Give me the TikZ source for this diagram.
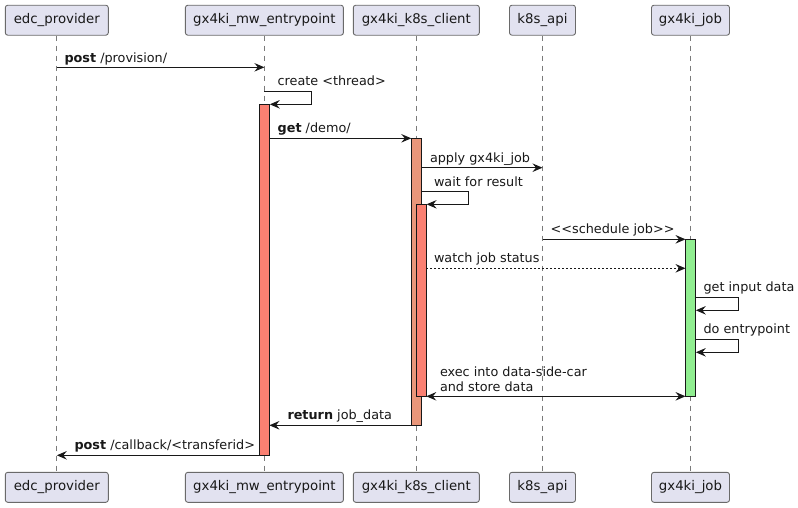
\documentclass[tikz,border=0pt]{standalone}
\usepackage{fontspec}
\setmainfont{DejaVu Sans}
\usetikzlibrary{arrows.meta}
\definecolor{partfill}{HTML}{E2E2F0}
\definecolor{partline}{HTML}{6A6A6A}
\definecolor{ink}{HTML}{181818}
\definecolor{lifegray}{HTML}{7A7A7A}
\definecolor{actsalmon}{HTML}{FA8072}
\definecolor{actdark}{HTML}{E9967A}
\definecolor{actgreen}{HTML}{90EE90}
\tikzset{
  part/.style={draw=partline, fill=partfill, rounded corners=2.5pt, line width=0.9pt,
    minimum height=30pt, inner sep=0pt, font=\fontsize{13.3}{16}\selectfont, text=ink},
  life/.style={draw=lifegray, line width=0.8pt, dash pattern=on 5pt off 5pt},
  actbar/.style={draw=ink, line width=1pt},
  msg/.style={draw=ink, line width=1pt, -{Stealth[length=10pt,width=8.5pt,inset=3.5pt]}},
  bimsg/.style={msg, {Stealth[length=10pt,width=8.5pt,inset=3.5pt]}-{Stealth[length=10pt,width=8.5pt,inset=3.5pt]}},
  dotmsg/.style={msg, dash pattern=on 2pt off 2pt},
  lbl/.style={font=\fontsize{12.8}{14.5}\selectfont, anchor=base west, inner sep=0pt, text=ink, align=left},
}
\begin{document}
\begin{tikzpicture}[x=1pt,y=-1pt]
\useasboundingbox (0,0) rectangle (798,507);

% participants, top and bottom
\node[part, minimum width=103pt] (edcT) at (56.8,20.2) {edc\_provider};
\node[part, minimum width=158pt] (mwT) at (264.4,20.2) {gx4ki\_mw\_entrypoint};
\node[part, minimum width=126pt] (clT) at (416.3,20.2) {gx4ki\_k8s\_client};
\node[part, minimum width=66pt] (apiT) at (542.5,20.2) {k8s\_api};
\node[part, minimum width=78pt] (jobT) at (690.5,20.2) {gx4ki\_job};

\node[part, minimum width=103pt] (edcB) at (56.8,487.3) {edc\_provider};
\node[part, minimum width=158pt] (mwB) at (264.4,487.3) {gx4ki\_mw\_entrypoint};
\node[part, minimum width=126pt] (clB) at (416.3,487.3) {gx4ki\_k8s\_client};
\node[part, minimum width=66pt] (apiB) at (542.5,487.3) {k8s\_api};
\node[part, minimum width=78pt] (jobB) at (690.5,487.3) {gx4ki\_job};

% lifelines
\draw[life] (edcT.south) -- (edcB.north);
\draw[life] (mwT.south) -- (mwB.north);
\draw[life] (clT.south) -- (clB.north);
\draw[life] (apiT.south) -- (apiB.north);
\draw[life] (jobT.south) -- (jobB.north);

% activation bars
\draw[actbar, fill=actsalmon] (259.4,104.3) rectangle (269.4,455.7);
\draw[actbar, fill=actdark] (411.3,138.3) rectangle (421.3,425.3);
\draw[actbar, fill=actsalmon] (416.3,204.3) rectangle (426.3,396.3);
\draw[actbar, fill=actgreen] (685.5,239.3) rectangle (695.5,396.3);

% message end points
\coordinate (p1a) at (56.8,67.3);   \coordinate (p1b) at (264.4,67.3);
\coordinate (s1a) at (264.4,91.3);  \coordinate (s1b) at (269.8,104.3);
\coordinate (g1a) at (269.4,138.3); \coordinate (g1b) at (411.3,138.3);
\coordinate (a1a) at (421.3,167.7); \coordinate (a1b) at (542.5,167.7);
\coordinate (w1a) at (421.3,191.7); \coordinate (w1b) at (426.6,204.3);
\coordinate (sj1a) at (542.5,239.3); \coordinate (sj1b) at (685.5,239.3);
\coordinate (wj1a) at (426.3,268.3); \coordinate (wj1b) at (685.5,268.3);
\coordinate (gi1a) at (695.5,297.3); \coordinate (gi1b) at (695.8,310.3);
\coordinate (de1a) at (695.5,339.3); \coordinate (de1b) at (695.8,352.3);
\coordinate (ex1a) at (426.3,396.3); \coordinate (ex1b) at (685.5,396.3);
\coordinate (r1a) at (411.3,425.3);  \coordinate (r1b) at (269.4,425.3);
\coordinate (c1a) at (259.4,455.3);  \coordinate (c1b) at (56.8,455.3);

% messages
\draw[msg] (p1a) -- (p1b);
\node[lbl] (p1l) at (64.3,62.3) {\textbf{post} /provision/};

\draw[msg] (s1a) -- ++(46.7,0) |- (s1b);
\node[lbl] (s1l) at (277.5,85.8) {create <thread>};

\draw[msg] (g1a) -- (g1b);
\node[lbl] (g1l) at (277.5,132.8) {\textbf{get} /demo/};

\draw[msg] (a1a) -- (a1b);
\node[lbl] (a1l) at (429.8,162.2) {apply gx4ki\_job};

\draw[msg] (w1a) -- ++(46.7,0) |- (w1b);
\node[lbl] (w1l) at (433.8,186.2) {wait for result};

\draw[msg] (sj1a) -- (sj1b);
\node[lbl] (sj1l) at (550.5,233.8) {<{}<schedule job>{}>};

\draw[dotmsg] (wj1a) -- (wj1b);
\node[lbl] (wj1l) at (433.8,262.8) {watch job status};

\draw[msg] (gi1a) -- ++(42.5,0) |- (gi1b);
\node[lbl] (gi1l) at (703.3,291.8) {get input data};

\draw[msg] (de1a) -- ++(42.5,0) |- (de1b);
\node[lbl] (de1l) at (703.3,333.8) {do entrypoint};

\draw[bimsg] (ex1a) -- (ex1b);
\node[lbl] (ex1l) at (439.8,391.3) {exec into data-side-car\\and store data};

\draw[msg] (r1a) -- (r1b);
\node[lbl] (r1l) at (287.3,419.8) {\textbf{return} job\_data};

\draw[msg] (c1a) -- (c1b);
\node[lbl] (c1l) at (74.3,449.8) {\textbf{post} /callback/<transferid>};
\end{tikzpicture}
\end{document}
